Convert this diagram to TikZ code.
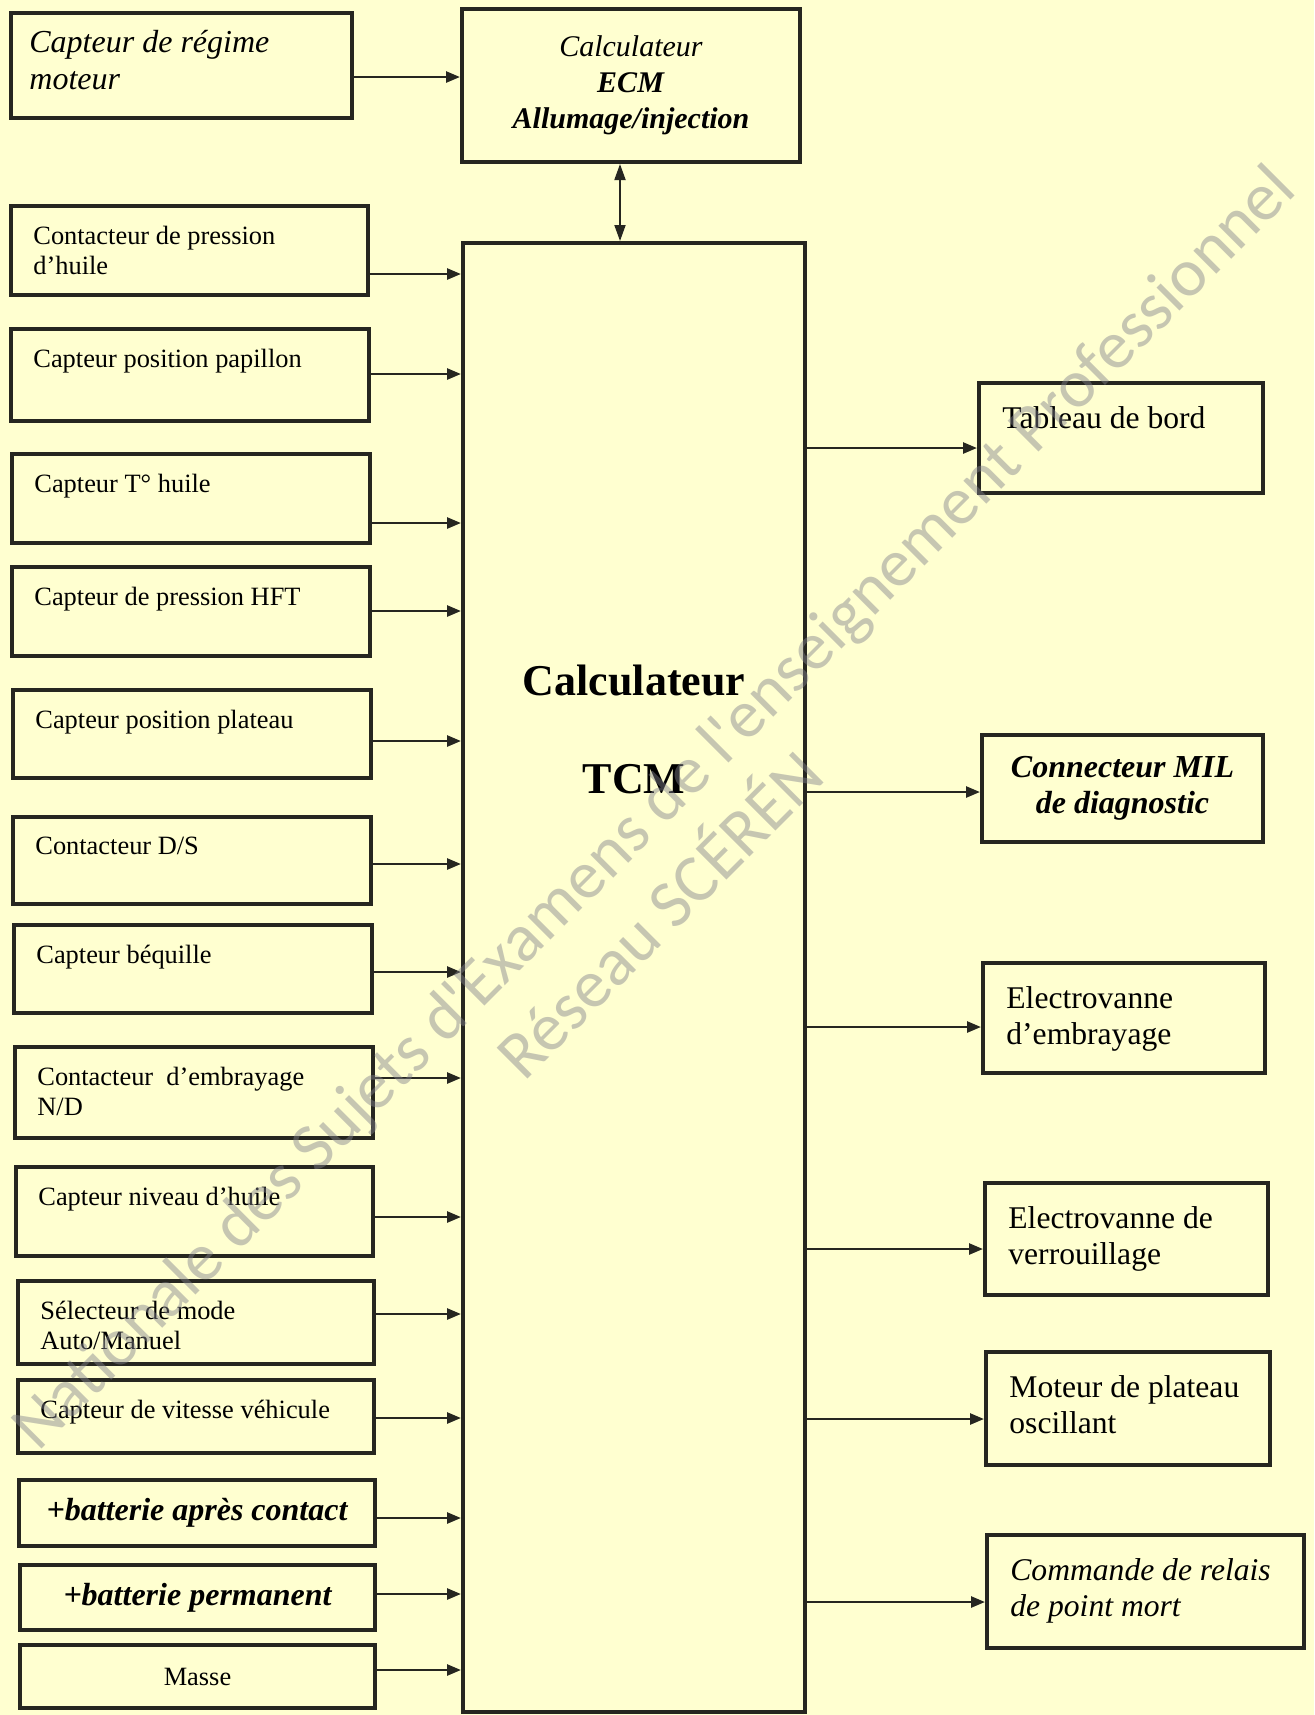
\documentclass[tikz,border=0pt]{standalone}
\usepackage{fontspec}
\setmainfont{Liberation Serif}
\newfontfamily\filigrane{Carlito}
\usetikzlibrary{arrows.meta,positioning}
\definecolor{papier}{RGB}{255,255,208}
\definecolor{encre}{RGB}{38,38,32}
\definecolor{gris}{RGB}{130,130,140}

\begin{document}
\begin{tikzpicture}[x=0.5pt,y=-0.5pt,
	bloc/.style={draw=encre,line width=2pt,inner sep=0pt},
	txtg/.style={anchor=north west,inner sep=0pt,align=left,font=\fontsize{13.2}{15}\selectfont},
	txtd/.style={anchor=north west,inner sep=0pt,align=left,font=\fontsize{15.8}{18}\selectfont},
	fleche/.style={draw=encre,line width=1.3pt,-{Triangle[length=7pt,width=5.5pt]}}]

	\path[fill=papier,use as bounding box] (0,0) rectangle (1314,1715);

	% calculateurs
	\node[bloc,minimum width=169pt,minimum height=76.5pt,align=center,font=\fontsize{15}{18}\selectfont] (ecm) at (631,85.5)
		{\textit{Calculateur}\\\textbf{\textit{ECM}}\\\textbf{\textit{Allumage/injection}}};
	\node[bloc,minimum width=171pt,minimum height=734.5pt] (tcm) at (634,977.5) {};
	\node[anchor=north,inner sep=0pt,align=center,font=\fontsize{22}{26}\selectfont\bfseries] (tcm-t) at (634,665) {Calculateur\\[23pt]TCM};
	\draw[draw=encre,line width=0.9pt,{Triangle[length=8pt,width=5.5pt]}-{Triangle[length=8pt,width=5.5pt]}] (ecm.south -| 620,0) -- (tcm.north -| 620,0);

	% entrees
	\node[bloc,minimum width=170.5pt,minimum height=52.5pt] (s1) at (181.5,65.5) {};
	\node[txtg,font=\fontsize{16}{18.5}\selectfont\itshape] (s1-t) at ([shift={(20,19)}]s1.north west) {Capteur de régime\\moteur};
	\draw[fleche] (s1.east |- 0,77) -- (ecm.west |- 0,77);

	\foreach \n/\xa/\ya/\xb/\yb/\fy/\txt in {
		s2/11/206/368/295/274/{Contacteur de pression\\d’huile},
		s3/11/329/369/421/374/{Capteur position papillon},
		s4/12/454/370/543/523/{Capteur T° huile},
		s5/12/567/370/656/611/{Capteur de pression HFT},
		s6/13/690/371/778/741/{Capteur position plateau},
		s7/13/817/371/904/864/{Contacteur D/S},
		s8/14/925/372/1013/972/{Capteur béquille},
		s9/15/1047/373/1138/1078/{Contacteur \ d’embrayage\\N/D},
		s10/16/1167/373/1256/1217/{Capteur niveau d’huile},
		s11/18/1281/374/1364/1314/{Sélecteur de mode\\Auto/Manuel},
		s12/18/1380/374/1453/1418/{Capteur de vitesse véhicule}}{
		\node[bloc,minimum width={(\xb-\xa)*0.5pt},minimum height={(\yb-\ya)*0.5pt}] (\n) at ({(\xa+\xb)/2},{(\ya+\yb)/2}) {};
		\node[txtg] (\n-t) at ([shift={(24,22)}]\n.north west) {\txt};
		\draw[fleche] (\n.east |- 0,\fy) -- (tcm.west |- 0,\fy);
	}

	\node[bloc,minimum width=178pt,minimum height=33pt,font=\fontsize{16}{18}\selectfont\bfseries\itshape] (s13) at (197,1513) {+batterie après contact};
	\node[bloc,minimum width=177.5pt,minimum height=32.5pt,font=\fontsize{16}{18}\selectfont\bfseries\itshape] (s14) at (197.5,1597.5) {+batterie permanent};
	\node[bloc,minimum width=177.5pt,minimum height=31.5pt,font=\fontsize{13.2}{15}\selectfont] (s15) at (197.5,1676.5) {Masse};
	\foreach \n/\fy in {s13/1518,s14/1594,s15/1670}
		\draw[fleche] (\n.east |- 0,\fy) -- (tcm.west |- 0,\fy);

	% sorties
	\node[bloc,minimum width=140.5pt,minimum height=53.5pt,align=center,font=\fontsize{16}{18}\selectfont\bfseries\itshape] (r2) at (1122.5,788.5) {Connecteur MIL\\de diagnostic};
	\draw[fleche] (tcm.east |- 0,792) -- (r2.west |- 0,792);

	\foreach \n/\xa/\ya/\xb/\yb/\fy/\txt in {
		r1/979/383/1263/493/448/{Tableau de bord},
		r3/983/963/1265/1073/1027/{Electrovanne\\d’embrayage},
		r4/985/1183/1268/1295/1249/{Electrovanne de\\verrouillage},
		r5/986/1352/1270/1465/1419/{Moteur de plateau\\oscillant},
		r6/987/1535/1304/1648/1602/{\textit{Commande de relais}\\\textit{de point mort}}}{
		\node[bloc,minimum width={(\xb-\xa)*0.5pt},minimum height={(\yb-\ya)*0.5pt}] (\n) at ({(\xa+\xb)/2},{(\ya+\yb)/2}) {};
		\node[txtd] (\n-t) at ([shift={(25,25)}]\n.north west) {\txt};
		\draw[fleche] (tcm.east |- 0,\fy) -- (\n.west |- 0,\fy);
	}

	% filigrane
	\node[rotate=45,inner sep=0pt,font=\filigrane\fontsize{34}{40}\selectfont,text=gris,text opacity=0.45] (wm1) at (656,810) {Nationale des Sujets d'Examens de l'enseignement Professionnel};
	\node[rotate=45,inner sep=0pt,font=\filigrane\fontsize{34}{40}\selectfont,text=gris,text opacity=0.45] (wm2) at (656,911) {Réseau SCÉRÉN};
\end{tikzpicture}
\end{document}
